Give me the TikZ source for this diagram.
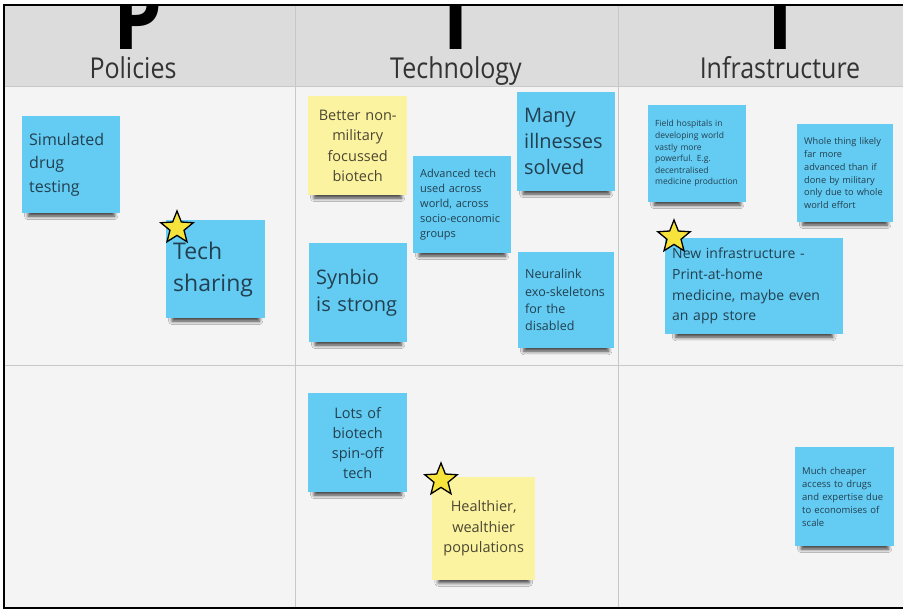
\documentclass[tikz,border=0pt]{standalone}
\usepackage{fontspec}
\usepackage{graphicx}
\setmainfont{Open Sans}
\usetikzlibrary{shapes.geometric,shadows.blur}
\definecolor{headbg}{HTML}{DCDCDC}
\definecolor{bodybg}{HTML}{F4F4F4}
\definecolor{gridcol}{HTML}{C8C8C8}
\definecolor{noteblue}{HTML}{64CBF2}
\definecolor{noteyellow}{HTML}{FCF3A0}
\definecolor{bluetext}{HTML}{22404F}
\definecolor{yellowtext}{HTML}{4A4733}
\definecolor{headtext}{HTML}{333333}
\definecolor{starfill}{HTML}{F6E43C}
\newcommand{\fs}[2]{\fontsize{#1}{#2}\selectfont\hyphenpenalty=10000\exhyphenpenalty=10000}
\begin{document}
\begin{tikzpicture}[x=1pt,y=-1pt,
  note/.style={rectangle, anchor=north west, inner xsep=7pt, inner ysep=0pt,
    blur shadow={shadow xshift=0pt, shadow yshift=-10pt, shadow scale=0.88,
      shadow blur radius=4pt, shadow opacity=75}},
  bluenote/.style={note, fill=noteblue, text=bluetext, align=left},
  yellownote/.style={note, fill=noteyellow, text=yellowtext, align=center},
  starmark/.style={star, star points=5, star point ratio=2.3, minimum size=34pt,
    inner sep=0pt, fill=starfill, draw=black, line width=1.3pt},
  headlabel/.style={anchor=base, text=headtext, inner sep=0pt},
  bigletter/.style={anchor=base, text=black, inner sep=0pt, font=\bfseries\fs{82}{82}},
  gridline/.style={draw=gridcol, line width=0.8pt},
  frameline/.style={draw=black, line width=2pt}
]
\useasboundingbox (0,0) rectangle (903,609);
% backgrounds
\fill[bodybg] (4,5) rectangle (903,608);
\fill[headbg] (4,5) rectangle (903,86);
% big header letters (clipped at top)
\begin{scope}
  \clip (4,5) rectangle (903,86);
  \node[bigletter] (bigP) at (138,50) {\scalebox{0.95}[1.1]{P}};
  \node[bigletter] (bigT) at (456,50) {\scalebox{0.95}[1.1]{T}};
  \node[bigletter] (bigI) at (780,50) {\scalebox{0.95}[1.1]{I}};
\end{scope}
% header labels
\node[headlabel] (hpol) at (133,79) {\fs{25}{25}\scalebox{1}[1.15]{Policies}};
\node[headlabel] (htec) at (456,79) {\fs{25}{25}\scalebox{1}[1.15]{Technology}};
\node[headlabel] (hinf) at (780,79) {\fs{25}{25}\scalebox{1}[1.15]{Infrastructure}};
% grid
\draw[gridline] (4,86) -- (903,86);
\draw[gridline] (4,365) -- (903,365);
\draw[gridline] (295,5) -- (295,608);
\draw[gridline] (618,5) -- (618,608);
% frame
\draw[frameline] (903,5) -- (4,5) -- (4,608) -- (903,608);
% notes: Policies
\node[bluenote, minimum height=97pt, text width=84pt, font=\fs{16}{23.5}] (sim) at (22,116)
  {Simulated\\drug\\testing};
\node[bluenote, minimum height=98pt, text width=85pt, font=\fs{23}{32}] (tech) at (166,220)
  {Tech\\sharing};
% notes: Technology
\node[yellownote, minimum height=99pt, text width=85pt, font=\fs{14.5}{20.5}] (better) at (308,96)
  {Better non-\\military\\focussed\\biotech};
\node[bluenote, minimum height=97pt, text width=84pt, font=\fs{11}{15}] (adv) at (413,156)
  {Advanced tech\\used across\\world, across\\socio-economic\\groups};
\node[bluenote, minimum height=99pt, text width=84pt, font=\fs{20}{26}] (many) at (517,92)
  {Many\\illnesses\\solved};
\node[bluenote, minimum height=99pt, text width=84pt, font=\fs{20}{27}] (synbio) at (309,243)
  {Synbio\\is strong};
\node[bluenote, minimum height=96pt, text width=82pt, font=\fs{12.5}{17.3}] (neura) at (518,252)
  {Neuralink\\exo-skeletons\\for the\\disabled};
\node[bluenote, align=center, minimum height=99pt, text width=85pt, font=\fs{14.5}{20}] (lots) at (308,393)
  {Lots of\\biotech\\spin-off\\tech};
\node[yellownote, minimum height=103pt, text width=89pt, font=\fs{14.5}{20.5}] (health) at (432,477)
  {Healthier,\\wealthier\\populations};
% notes: Infrastructure
\node[bluenote, minimum height=97pt, text width=84pt, font=\fs{8.5}{11.6}] (field) at (648,105)
  {Field hospitals in\\developing world\\vastly more\\powerful. E.g.\\decentralised\\medicine production};
\node[bluenote, minimum height=98pt, text width=82pt, font=\fs{9.2}{12.8}] (whole) at (797,124)
  {Whole thing likely\\far more\\advanced than if\\done by military\\only due to whole\\world effort};
\node[bluenote, minimum height=96pt, text width=164pt, font=\fs{14}{20.7}] (newinf) at (665,238)
  {New infrastructure -\\Print-at-home\\medicine, maybe even\\an app store};
\node[bluenote, minimum height=99pt, text width=85pt, font=\fs{9.5}{13}] (cheap) at (795,447)
  {Much cheaper\\access to drugs\\and expertise due\\to economises of\\scale};
% stars
\node[starmark] (s1) at (177,228) {};
\node[starmark] (s2) at (674,237) {};
\node[starmark] (s3) at (441,480) {};
\end{tikzpicture}
\end{document}
